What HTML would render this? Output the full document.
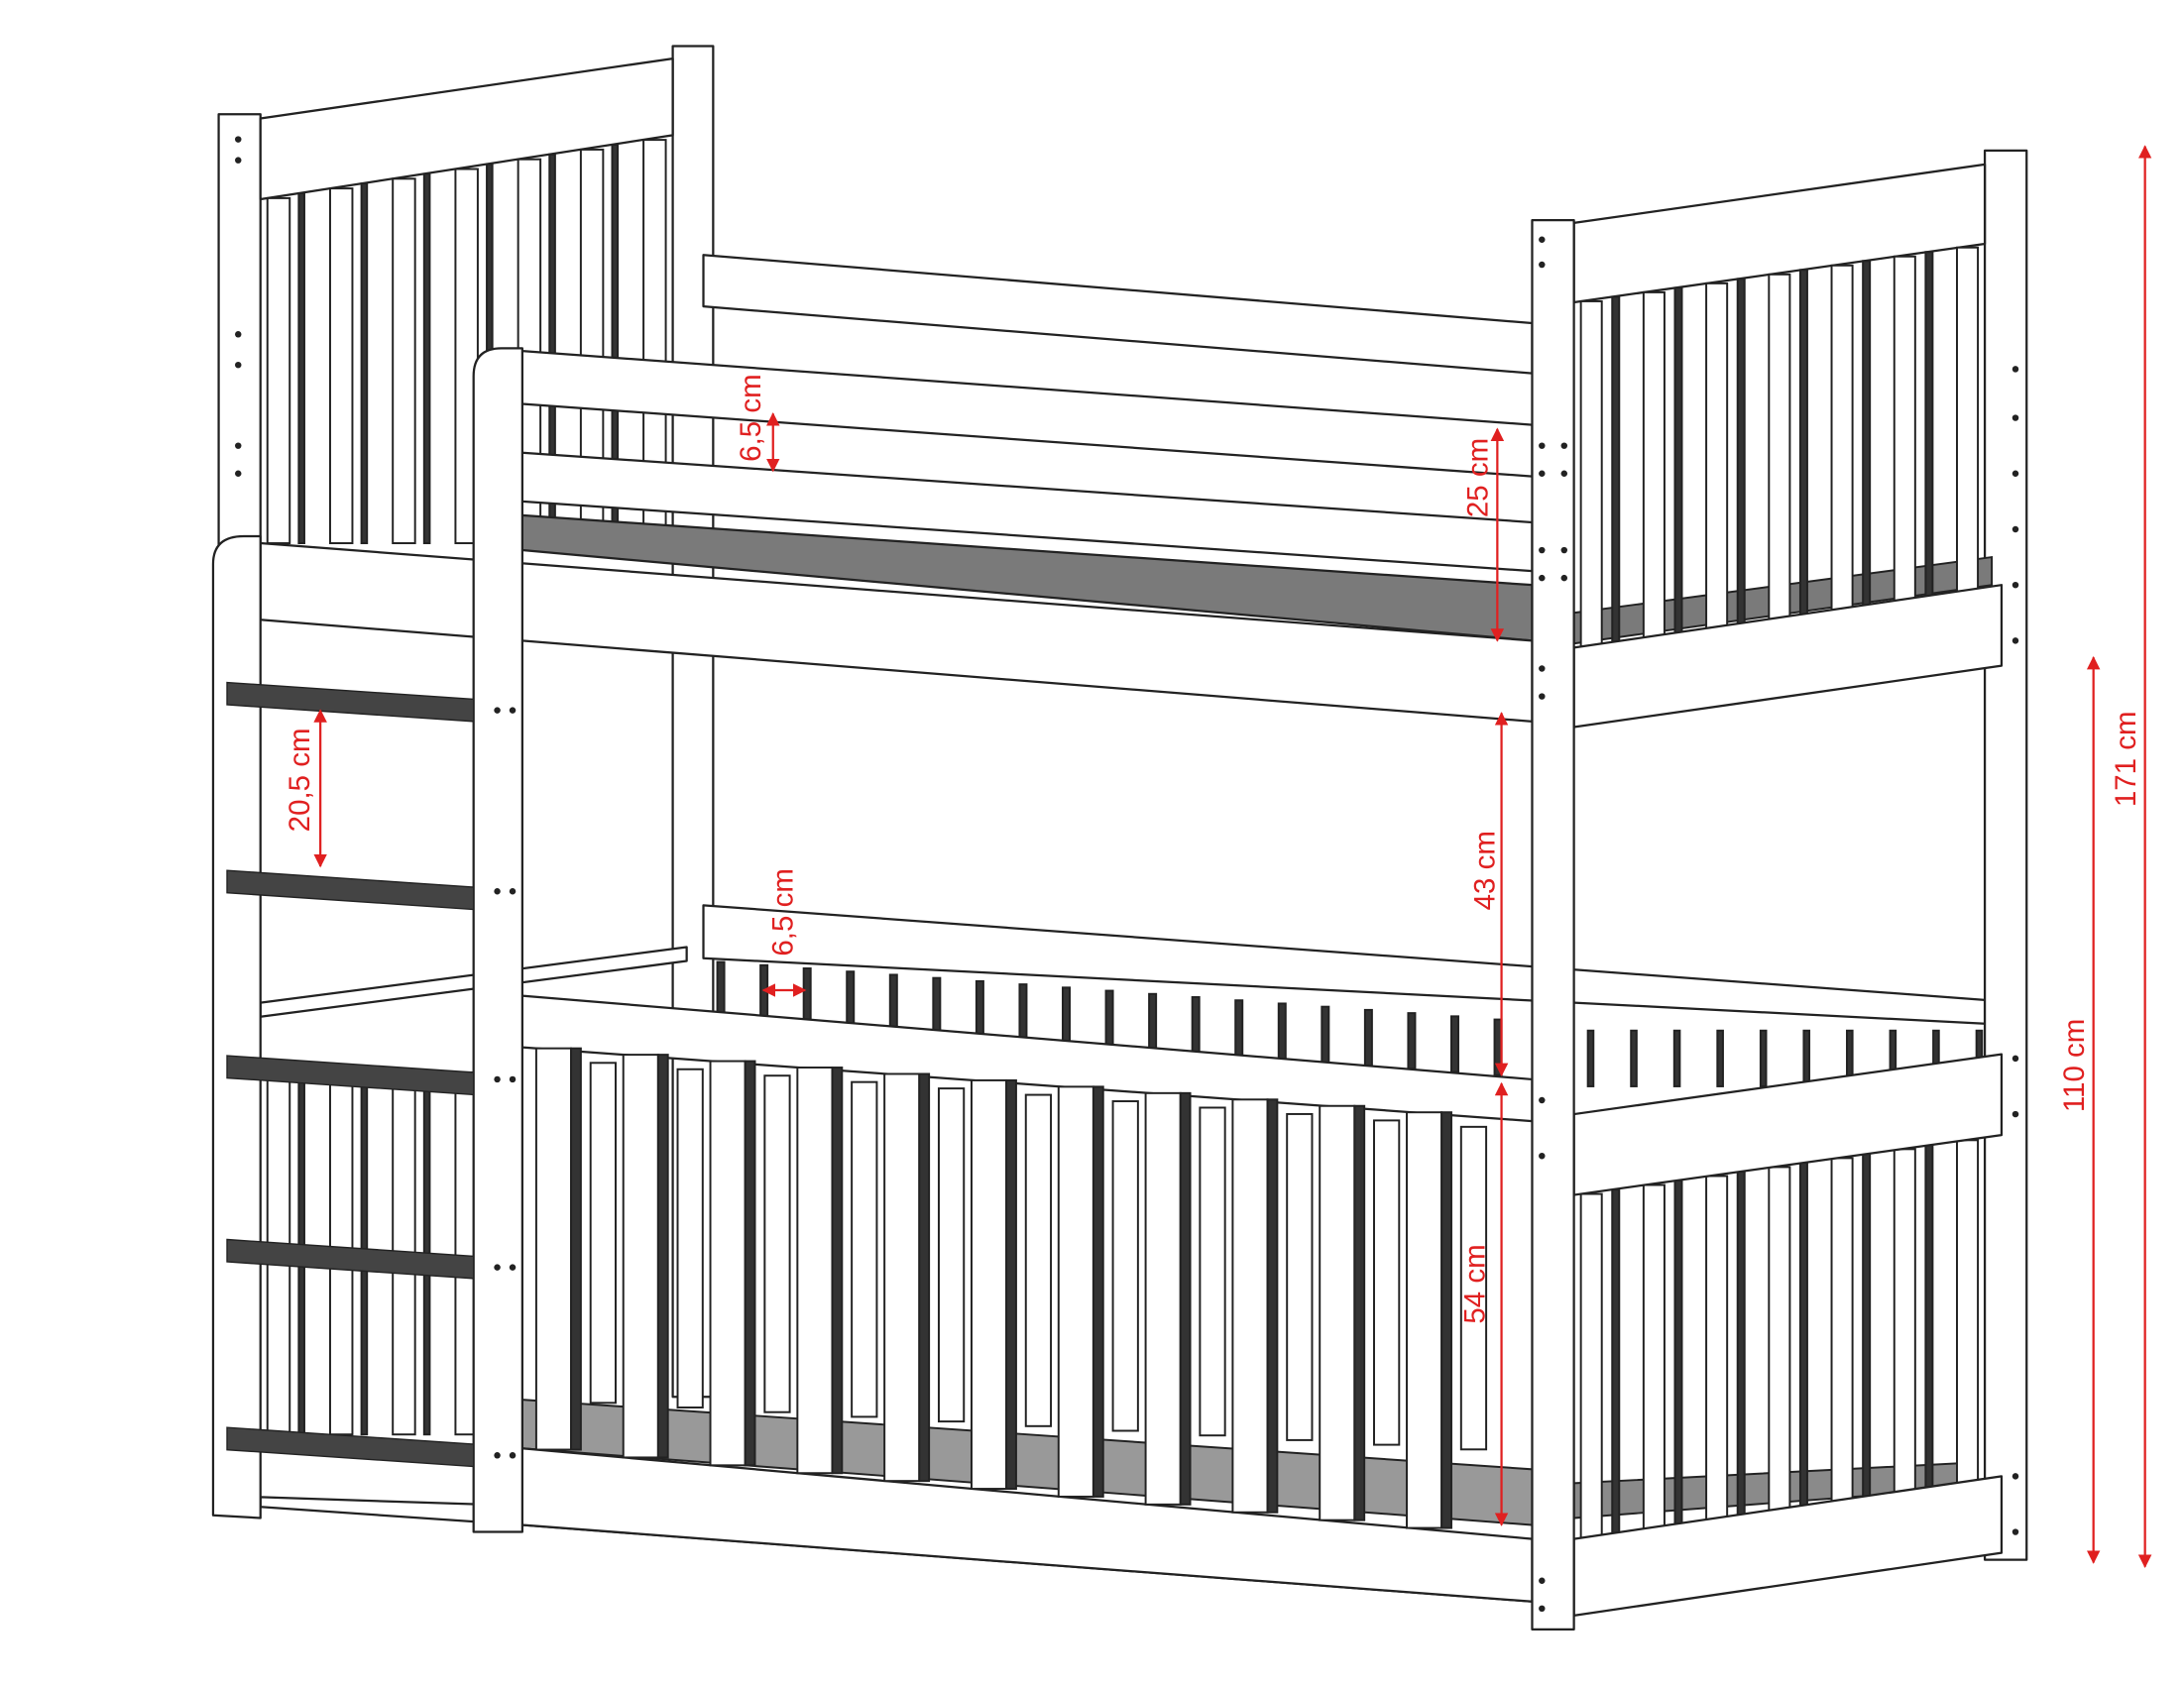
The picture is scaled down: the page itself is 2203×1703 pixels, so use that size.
<!DOCTYPE html>
<html><head><meta charset="utf-8"><style>
html,body{margin:0;padding:0;background:#fff;}
svg{display:block;}
</style></head><body>
<svg id="s" width="2203" height="1703" viewBox="0 0 1568 1212" xmlns="http://www.w3.org/2000/svg" font-family="Liberation Sans, sans-serif">
<defs>
<marker id="a" viewBox="0 0 10 10" refX="9" refY="5" markerWidth="6" markerHeight="6" orient="auto-start-reverse"><path d="M0,0L10,5L0,10z" fill="#e02020"/></marker>
</defs>
<g id="g" fill="#fff" stroke="#222" stroke-width="1.6" stroke-linejoin="round">
<rect x="483" y="33" width="29" height="970"/>
<rect x="157" y="82" width="30" height="310"/>
<polygon points="187,85 483,42 483,97 187,143"/>
<polygon points="505,183 1100,232 1100,268 505,220"/>
<polygon points="505,650 1425,718 1425,735 505,688"/>
<polygon points="187,720 493,680 493,690 187,730"/>
<rect x="1425" y="108" width="30" height="1012"/>
<polygon points="1130,160 1425,118 1425,175 1130,217"/>
</g>
<g id="slats" stroke="#222" stroke-width="1.4"></g>
<g fill="#fff" stroke="#222" stroke-width="1.6" stroke-linejoin="round">
<polygon points="1130,465 1437,420 1437,478 1130,522"/>
<polygon points="1130,800 1437,757 1437,815 1130,858"/>
<polygon points="1130,1105 1437,1060 1437,1115 1130,1160"/>
<polygon points="375,370 1100,420 1100,460 375,395" fill="#7a7a7a"/>
<polygon points="375,252 1100,305 1100,342 375,290"/>
<polygon points="375,325 1100,375 1100,410 375,360"/>
<polygon points="187,390 1100,460 1100,518 187,445"/>
<polygon points="375,715 1100,775 1100,805 375,752"/>
<polygon points="187,1075 1100,1105 1100,1150 375,1095 187,1082"/>
<polygon points="375,1040 1100,1105 1100,1150 375,1095"/>
</g>
<g id="lslats" stroke="#222" stroke-width="1.4"></g>
<g fill="#fff" stroke="#222" stroke-width="1.6" stroke-linejoin="round">
<path d="M153,1088 L153,405 Q153,385 175,385 L187,385 L187,1090 Z"/>
<path d="M340,1100 L340,270 Q340,250 360,250 L375,250 L375,1100 Z"/>
<rect x="1100" y="158" width="30" height="1012"/>
</g>
<g id="rungs"></g>
<g id="dots" fill="#222"></g>
<g stroke="#e02020" stroke-width="1.6" fill="none">
<line x1="555" y1="297" x2="555" y2="338" marker-start="url(#a)" marker-end="url(#a)"/>
<line x1="1075" y1="308" x2="1075" y2="460" marker-start="url(#a)" marker-end="url(#a)"/>
<line x1="230" y1="510" x2="230" y2="622" marker-start="url(#a)" marker-end="url(#a)"/>
<line x1="1078" y1="512" x2="1078" y2="772" marker-start="url(#a)" marker-end="url(#a)"/>
<line x1="548" y1="711" x2="578" y2="711" marker-start="url(#a)" marker-end="url(#a)"/>
<line x1="1078" y1="778" x2="1078" y2="1095" marker-start="url(#a)" marker-end="url(#a)"/>
<line x1="1503" y1="472" x2="1503" y2="1122" marker-start="url(#a)" marker-end="url(#a)"/>
<line x1="1540" y1="105" x2="1540" y2="1125" marker-start="url(#a)" marker-end="url(#a)"/>
</g>
<g fill="#e02020" font-size="21" text-anchor="middle">
<text transform="translate(546,300) rotate(-90)">6,5 cm</text>
<text transform="translate(1068,343) rotate(-90)">25 cm</text>
<text transform="translate(222,560) rotate(-90)">20,5 cm</text>
<text transform="translate(1073,625) rotate(-90)">43 cm</text>
<text transform="translate(569,655) rotate(-90)">6,5 cm</text>
<text transform="translate(1066,922) rotate(-90)">54 cm</text>
<text transform="translate(1496,765) rotate(-90)">110 cm</text>
<text transform="translate(1533,545) rotate(-90)">171 cm</text>
</g>
</svg>
<script>
var NS="http://www.w3.org/2000/svg";
function el(p,t,a){var e=document.createElementNS(NS,t);for(var k in a)e.setAttribute(k,a[k]);document.getElementById(p).appendChild(e);return e;}
for(var x=192;x<478;x+=22.5){var i=Math.round((x-192)/22.5);var yt=143-(x-187)*0.155;
el("slats","rect",{x:x,y:yt,width:i%2?4:16,height:390-yt,fill:i%2?"#333":"#fff"});}
el("slats","polygon",{points:"1130,440 1430,400 1430,420 1130,462",fill:"#7a7a7a"});
for(var x=1135;x<1420;x+=22.5){var i=Math.round((x-1135)/22.5);var yt=217-(x-1130)*0.143,yb=465-(x-1130)*0.146;
el("slats","rect",{x:x,y:yt,width:i%2?5:15,height:yb-yt,fill:i%2?"#333":"#fff"});}
for(var x=1140;x<1420;x+=31){el("slats","rect",{x:x,y:740,width:4,height:40,fill:"#333"});}
el("slats","polygon",{points:"1130,1065 1420,1050 1420,1068 1130,1090",fill:"#8a8a8a"});
for(var x=1135;x<1420;x+=22.5){var i=Math.round((x-1135)/22.5);var yt=858-(x-1130)*0.143,yb=1105-(x-1130)*0.146;
el("slats","rect",{x:x,y:yt,width:i%2?5:15,height:yb-yt,fill:i%2?"#333":"#fff"});}
for(var x=192;x<335;x+=22.5){var i=Math.round((x-192)/22.5);el("slats","rect",{x:x,y:770,width:i%2?4:16,height:260,fill:i%2?"#333":"#fff"});}
for(var x=515;x<1095;x+=31){var yt=690+(x-505)*0.074;el("slats","rect",{x:x,y:yt,width:5,height:40,fill:"#333"});}
el("slats","polygon",{points:"375,1005 1100,1055 1100,1095 375,1040",fill:"#999"});
for(var i=0;i<12;i++){var x=418+62.5*i;var yt=760+(x-375)*0.0735;el("slats","rect",{x:x+6,y:yt,width:18,height:245-(x-375)*0.02,fill:"#fff"});}
for(var i=0;i<11;i++){var x=385+62.5*i;var yt=752+(x-375)*0.0735,yb=1040+(x-375)*0.09;
el("lslats","rect",{x:x,y:yt,width:25,height:yb-yt,fill:"#fff"});
el("lslats","rect",{x:x+25,y:yt,width:7,height:yb-yt,fill:"#333"});}
[490,625,758,890,1025].forEach(function(y){el("rungs","polygon",{points:"163,"+y+" 340,"+(y+12)+" 340,"+(y+28)+" 163,"+(y+16),fill:"#444",stroke:"#222"});});
[[171,100],[171,115],[171,240],[171,262],[171,320],[171,340],[1107,172],[1107,190],[1107,320],[1107,340],[1107,395],[1107,415],[1107,480],[1107,500],[1107,790],[1107,830],[1107,1135],[1107,1155],[1123,320],[1123,340],[1123,395],[1123,415],[1447,265],[1447,300],[1447,340],[1447,380],[1447,420],[1447,460],[1447,760],[1447,800],[1447,1060],[1447,1100],[357,510],[368,510],[357,640],[368,640],[357,775],[368,775],[357,910],[368,910],[357,1045],[368,1045]].forEach(function(p){el("dots","circle",{cx:p[0],cy:p[1],r:2.3});});
</script>
</body></html>
